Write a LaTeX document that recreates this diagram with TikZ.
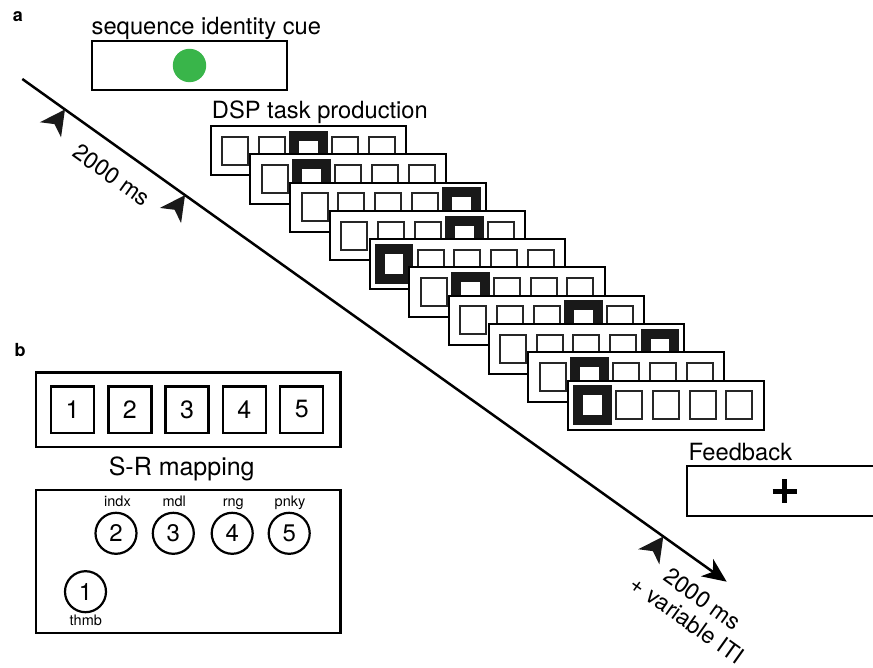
\documentclass[tikz,border=0pt]{standalone}
\usepackage{fontspec}
\setmainfont{TeX Gyre Heros}
\usetikzlibrary{calc}
\usetikzlibrary{arrows.meta}
\definecolor{cuegreen}{HTML}{39B54A}
\tikzset{>=Stealth}
\tikzset{screen/.style = {shape=rectangle, draw, line width=2pt, fill=white, minimum width=195.5pt, minimum height=49.5pt, inner sep=0pt}}
\tikzset{keyoff/.style = {shape=rectangle, draw=black!85, line width=2pt, minimum width=26pt, minimum height=28pt, inner sep=0pt}}
\tikzset{keyon/.style = {shape=rectangle, draw=black!90, line width=10pt, minimum width=28.5pt, minimum height=30pt, inner sep=0pt}}
\tikzset{panel/.style = {shape=rectangle, draw, line width=2.5pt, minimum width=304.5pt, inner sep=0pt}}
\tikzset{keynum/.style = {shape=rectangle, draw, line width=2.5pt, minimum width=43pt, minimum height=46.5pt, inner sep=0pt, font=\fontsize{25}{29}\selectfont}}
\tikzset{finger/.style = {shape=circle, draw, line width=2.2pt, minimum size=41pt, inner sep=0pt, font=\fontsize{24}{28}\selectfont}}
\tikzset{fingerlbl/.style = {anchor=base, inner sep=0pt, font=\fontsize{14.5}{16}\selectfont}}
\tikzset{title/.style = {anchor=base west, inner sep=0pt, font=\fontsize{23.7}{27}\selectfont}}
\tikzset{panellbl/.style = {inner sep=0pt, font=\fontsize{18}{21}\selectfont\bfseries}}
\tikzset{timelbl/.style = {inner sep=0pt, rotate=-35.5, align=center, font=\fontsize{23}{26}\selectfont}}
\tikzset{timemark/.pic = {\fill[black!90] (0,0) -- (-13,25) -- (0,18) -- (13,25) -- cycle;}}

\begin{document}
\begin{tikzpicture}[x=1pt,y=-1pt]
    \useasboundingbox (0,0) rectangle (873,668);

    \node[panellbl] (a) at (18,17) {a};
    \node[title] (cuetitle) at (91.5,35) {sequence identity cue};
    \node[screen] (cue) at (189.5,65.5) {};
    \node[circle, fill=cuegreen, minimum size=33.4pt, inner sep=0pt] (dot) at (cue.center) {};

    \coordinate (t0) at (22.3,79);
    \coordinate (t1) at (726.7,581.7);
    \draw[line width=2.5pt, -{Stealth[length=24pt,width=21pt,inset=7pt]}] (t0) -- (t1);
    \pic[rotate=-35.5] at ($(t0)!0.0606!(t1)$) {timemark};
    \pic[rotate=-35.5] at ($(t0)!0.231!(t1)$) {timemark};
    \pic[rotate=-35.5] at ($(t0)!0.910!(t1)$) {timemark};
    \node[timelbl] (dur1) at (112,175) {2000 ms};
    \node[timelbl] (dur2) at (695,609.5) {2000 ms\\+ variable ITI};

    \node[title] (dsptitle) at (211.7,118.3) {DSP task production};
    \foreach \i/\b in {1/3,2/2,3/5,4/4,5/1,6/2,7/4,8/5,9/2,10/1}{
        \node[screen] (s\i) at ({308.5+39.7*(\i-1)},{150.7+28.3*(\i-1)}) {};
        \foreach \k in {1,...,5}{
            \ifnum\k=\b\relax
                \node[keyon] (s\i-\k) at ($(s\i)+({36.7*(\k-3)},0)$) {};
            \else
                \node[keyoff] (s\i-\k) at ($(s\i)+({36.7*(\k-3)},0)$) {};
            \fi
        }
    }

    \node[title] (fbtitle) at (688.3,460.7) {Feedback};
    \node[screen] (fb) at (784.5,491) {};
    \draw[line width=5pt] ($(fb)+(-12,0)$) -- ($(fb)+(12,0)$);
    \draw[line width=5pt] ($(fb)+(0,-12)$) -- ($(fb)+(0,12)$);

    \node[panellbl] (b) at (20,350) {b};
    \node[panel, minimum height=74.5pt] (keys) at (188.25,409.75) {};
    \foreach \k in {1,...,5}
        \node[keynum] (k\k) at ({72.5+57.3*(\k-1)},409.5) {\k};

    \node[title, anchor=base, font=\fontsize{25}{29}\selectfont] (srtitle) at (181.7,475.5) {S-R mapping};
    \node[panel, minimum height=143pt] (hand) at (188.25,561.5) {};
    \node[finger] (f1) at (85.5,591.7) {1};
    \foreach \k/\x in {2/116,3/173.3,4/232.2,5/289.2}
        \node[finger] (f\k) at (\x,533.3) {\k};
    \node[fingerlbl] (l1) at (85.8,625) {thmb};
    \node[fingerlbl] (l2) at (117.5,506.3) {indx};
    \node[fingerlbl] (l3) at (174.2,506.3) {mdl};
    \node[fingerlbl] (l4) at (233.3,506.3) {rng};
    \node[fingerlbl] (l5) at (290,506.3) {pnky};
\end{tikzpicture}
\end{document}
